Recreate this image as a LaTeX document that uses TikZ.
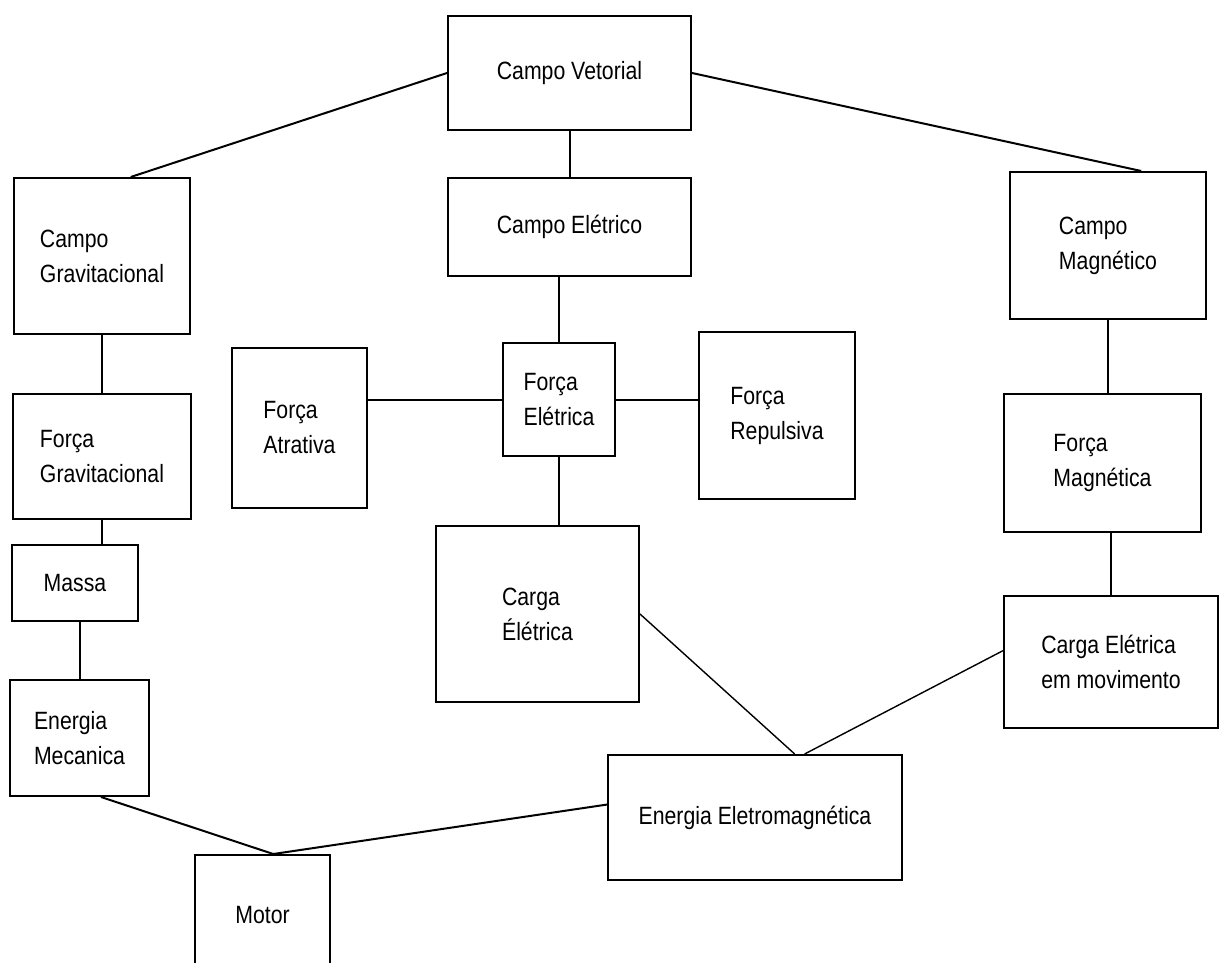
\documentclass[tikz,border=0pt]{standalone}
\usepackage{fontspec}
\setmainfont{Liberation Sans}[FakeStretch=0.85]

\begin{document}
\begin{tikzpicture}[x=1pt, y=-1pt,
	caixa/.style={draw, line width=2pt, inner sep=0pt, align=left, font=\fontsize{25}{35}\selectfont},
	liga/.style={line width=2pt},
	fina/.style={line width=1.4pt}]
	
	\useasboundingbox (0,0) rectangle (1224,963);
	\clip (0,0) rectangle (1224,963);
	\fill[white] (0,0) rectangle (1224,963);
	
	% topo e coluna do meio
	\node (cv) at (569.5,73) [caixa, minimum width=243pt, minimum height=114pt] {Campo Vetorial};
	\node (ce) [caixa, minimum width=243pt, minimum height=98pt] [below of=cv, node distance=154pt] {Campo El\'etrico};
	\node (fe) at (559,399.5) [caixa, minimum width=112pt, minimum height=113pt] {For\c{c}a\\El\'etrica};
	\node (fa) at (299.5,428) [caixa, minimum width=135pt, minimum height=160pt] {For\c{c}a\\Atrativa};
	\node (fr) at (777,415.5) [caixa, minimum width=156pt, minimum height=167pt] {For\c{c}a\\Repulsiva};
	\node (ca) at (537.5,614) [caixa, minimum width=203pt, minimum height=176pt] {Carga\\\'El\'etrica};
	
	% coluna da esquerda
	\node (cg) at (102,256) [caixa, minimum width=176pt, minimum height=156pt] {Campo\\Gravitacional};
	\node (fg) [caixa, minimum width=178pt, minimum height=125pt] [below of=cg, node distance=200.5pt] {For\c{c}a\\Gravitacional};
	\node (ms) at (75,583) [caixa, minimum width=126pt, minimum height=76pt] {Massa};
	\node (em) at (79.5,738) [caixa, minimum width=139pt, minimum height=116pt] {Energia\\Mecanica};
	\node (mt) at (262.5,915) [caixa, minimum width=135pt, minimum height=120pt] {Motor};
	
	% coluna da direita
	\node (cm) at (1108,245.5) [caixa, minimum width=196pt, minimum height=147pt] {Campo\\Magn\'etico};
	\node (fm) at (1102.5,463) [caixa, minimum width=197pt, minimum height=138pt] {For\c{c}a\\Magn\'etica};
	\node (cmov) at (1111,662) [caixa, minimum width=214pt, minimum height=132pt] {Carga El\'etrica\\em movimento};
	\node (ee) at (755,817.5) [caixa, minimum width=294pt, minimum height=125pt] {Energia Eletromagn\'etica};
	
	\draw[liga] (cv.west) -- (cg.70);
	\draw[liga] (cv.east) -- (cm.66);
	\draw[liga] (cv) -- (ce);
	\draw[liga] (fe.north) -- (fe.north |- ce.south);
	\draw[liga] (fe.west) -- (fa.east |- fe.west);
	\draw[liga] (fe.east) -- (fr.west |- fe.east);
	\draw[liga] (fe.south) -- (fe.south |- ca.north);
	
	\draw[liga] (cg) -- (fg);
	\draw[liga] (fg.south) -- (fg.south |- ms.north);
	\draw[liga] (em.north) -- (em.north |- ms.south);
	\draw[liga] (em.-70) -- (mt.80);
	\draw[liga] (ee.175) -- (mt.80);
	
	\draw[liga] (cm.south) -- (cm.south |- fm.north);
	\draw[liga] (cmov.north) -- (cmov.north |- fm.south);
	\draw[fina] (ca.east) -- (ee.58);
	\draw[fina] (cmov.174) -- (ee.52);
	
\end{tikzpicture}
\end{document}
